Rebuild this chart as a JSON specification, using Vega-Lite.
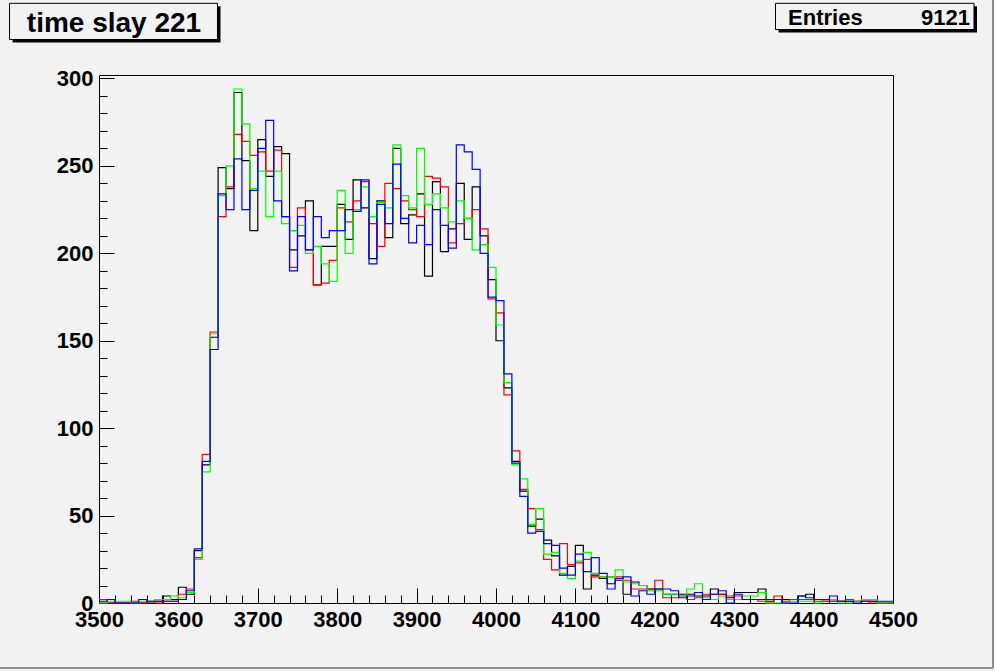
{
  "$schema": "https://vega.github.io/schema/vega-lite/v6.json",
  "width": 794,
  "height": 528,
  "autosize": {"type": "none"},
  "padding": {"left": 99, "top": 75, "right": 102, "bottom": 68},
  "background": "#f2f2f2",
  "config": {"view": {"stroke": "black", "strokeWidth": 1, "fill": "#f2f2f2"}, "font": "Liberation Sans"},
  "data": {"values": [
    {"x":3500,"k":0,"r":2,"g":0,"b":1},
    {"x":3510,"k":0,"r":0,"g":1,"b":2},
    {"x":3520,"k":0,"r":0,"g":1,"b":0},
    {"x":3530,"k":0,"r":0,"g":1,"b":0},
    {"x":3540,"k":0,"r":1,"g":0,"b":0},
    {"x":3550,"k":0,"r":0,"g":1,"b":2},
    {"x":3560,"k":0,"r":1,"g":1,"b":1},
    {"x":3570,"k":1,"r":0,"g":2,"b":1},
    {"x":3580,"k":4,"r":1,"g":2,"b":1},
    {"x":3590,"k":2,"r":1,"g":4,"b":1},
    {"x":3600,"k":9,"r":5,"g":3,"b":2},
    {"x":3610,"k":5,"r":8,"g":6,"b":7},
    {"x":3620,"k":30,"r":26,"g":25,"b":31},
    {"x":3630,"k":79,"r":85,"g":75,"b":81},
    {"x":3640,"k":152,"r":155,"g":154,"b":145},
    {"x":3650,"k":249,"r":221,"g":233,"b":234},
    {"x":3660,"k":237,"r":238,"g":250,"b":225},
    {"x":3670,"k":292,"r":268,"g":294,"b":254},
    {"x":3680,"k":253,"r":264,"g":274,"b":225},
    {"x":3690,"k":213,"r":256,"g":237,"b":236},
    {"x":3700,"k":265,"r":258,"g":247,"b":260},
    {"x":3710,"k":244,"r":247,"g":221,"b":276},
    {"x":3720,"k":261,"r":259,"g":247,"b":230},
    {"x":3730,"k":257,"r":221,"g":217,"b":221},
    {"x":3740,"k":202,"r":192,"g":213,"b":190},
    {"x":3750,"k":210,"r":226,"g":216,"b":221},
    {"x":3760,"k":230,"r":202,"g":200,"b":202},
    {"x":3770,"k":182,"r":182,"g":204,"b":221},
    {"x":3780,"k":204,"r":183,"g":194,"b":209},
    {"x":3790,"k":204,"r":196,"g":184,"b":213},
    {"x":3800,"k":228,"r":226,"g":236,"b":213},
    {"x":3810,"k":208,"r":218,"g":200,"b":225},
    {"x":3820,"k":242,"r":230,"g":225,"b":224},
    {"x":3830,"k":226,"r":241,"g":238,"b":242},
    {"x":3840,"k":197,"r":217,"g":221,"b":194},
    {"x":3850,"k":230,"r":204,"g":229,"b":228},
    {"x":3860,"k":209,"r":240,"g":226,"b":217},
    {"x":3870,"k":260,"r":237,"g":262,"b":251},
    {"x":3880,"k":217,"r":230,"g":233,"b":220},
    {"x":3890,"k":222,"r":225,"g":226,"b":206},
    {"x":3900,"k":234,"r":221,"g":260,"b":216},
    {"x":3910,"k":187,"r":244,"g":228,"b":205},
    {"x":3920,"k":241,"r":243,"g":234,"b":225},
    {"x":3930,"k":201,"r":238,"g":226,"b":216},
    {"x":3940,"k":214,"r":206,"g":218,"b":203},
    {"x":3950,"k":240,"r":217,"g":230,"b":262},
    {"x":3960,"k":208,"r":220,"g":220,"b":258},
    {"x":3970,"k":238,"r":225,"g":202,"b":248},
    {"x":3980,"k":210,"r":214,"g":205,"b":200},
    {"x":3990,"k":185,"r":174,"g":192,"b":175},
    {"x":4000,"k":150,"r":166,"g":159,"b":173},
    {"x":4010,"k":123,"r":119,"g":126,"b":131},
    {"x":4020,"k":81,"r":87,"g":79,"b":80},
    {"x":4030,"k":64,"r":65,"g":71,"b":61},
    {"x":4040,"k":44,"r":54,"g":45,"b":40},
    {"x":4050,"k":48,"r":42,"g":54,"b":41},
    {"x":4060,"k":36,"r":25,"g":28,"b":34},
    {"x":4070,"k":27,"r":19,"g":29,"b":33},
    {"x":4080,"k":16,"r":34,"g":17,"b":20},
    {"x":4090,"k":21,"r":22,"g":14,"b":16},
    {"x":4100,"k":33,"r":23,"g":24,"b":28},
    {"x":4110,"k":8,"r":25,"g":29,"b":18},
    {"x":4120,"k":16,"r":15,"g":17,"b":26},
    {"x":4130,"k":14,"r":15,"g":15,"b":17},
    {"x":4140,"k":11,"r":15,"g":15,"b":8},
    {"x":4150,"k":13,"r":15,"g":19,"b":14},
    {"x":4160,"k":5,"r":13,"g":12,"b":15},
    {"x":4170,"k":12,"r":8,"g":11,"b":4},
    {"x":4180,"k":10,"r":8,"g":10,"b":7},
    {"x":4190,"k":8,"r":8,"g":7,"b":5},
    {"x":4200,"k":8,"r":13,"g":7,"b":8},
    {"x":4210,"k":5,"r":3,"g":5,"b":8},
    {"x":4220,"k":5,"r":3,"g":5,"b":7},
    {"x":4230,"k":5,"r":4,"g":4,"b":3},
    {"x":4240,"k":5,"r":2,"g":8,"b":4},
    {"x":4250,"k":4,"r":3,"g":11,"b":6},
    {"x":4260,"k":4,"r":5,"g":3,"b":2},
    {"x":4270,"k":8,"r":5,"g":2,"b":5},
    {"x":4280,"k":5,"r":5,"g":4,"b":7},
    {"x":4290,"k":3,"r":4,"g":2,"b":0},
    {"x":4300,"k":6,"r":4,"g":2,"b":5},
    {"x":4310,"k":6,"r":2,"g":4,"b":2},
    {"x":4320,"k":6,"r":2,"g":4,"b":2},
    {"x":4330,"k":8,"r":1,"g":6,"b":2},
    {"x":4340,"k":1,"r":0,"g":0,"b":2},
    {"x":4350,"k":2,"r":4,"g":0,"b":2},
    {"x":4360,"k":2,"r":1,"g":0,"b":0},
    {"x":4370,"k":2,"r":2,"g":1,"b":0},
    {"x":4380,"k":4,"r":2,"g":1,"b":4},
    {"x":4390,"k":5,"r":2,"g":1,"b":3},
    {"x":4400,"k":2,"r":1,"g":0,"b":2},
    {"x":4410,"k":1,"r":1,"g":2,"b":2},
    {"x":4420,"k":1,"r":1,"g":2,"b":4},
    {"x":4430,"k":1,"r":1,"g":0,"b":1},
    {"x":4440,"k":1,"r":2,"g":0,"b":1},
    {"x":4450,"k":1,"r":1,"g":1,"b":0},
    {"x":4460,"k":1,"r":1,"g":2,"b":1},
    {"x":4470,"k":1,"r":0,"g":2,"b":1},
    {"x":4480,"k":0,"r":0,"g":0,"b":1},
    {"x":4490,"k":0,"r":0,"g":0,"b":1},
    {"x":4500,"k":0,"r":0,"g":0,"b":1}
  ]},
  "encoding": {
    "x": {"type": "quantitative",
      "scale": {"domain": [3500, 4500], "nice": false, "zero": false},
      "axis": {
        "values": [3500,3520,3540,3560,3580,3600,3620,3640,3660,3680,3700,3720,3740,3760,3780,3800,3820,3840,3860,3880,3900,3920,3940,3960,3980,4000,4020,4040,4060,4080,4100,4120,4140,4160,4180,4200,4220,4240,4260,4280,4300,4320,4340,4360,4380,4400,4420,4440,4460,4480,4500],
        "format": "d",
        "labelExpr": "datum.value % 100 === 0 ? datum.label : ''",
        "tickSize": {"condition": {"test": "datum.value % 100 === 0", "value": -15}, "value": -8},
        "tickColor": "black", "tickWidth": 1, "domain": false, "grid": false, "title": null,
        "labelFont": "Liberation Sans", "labelFontWeight": "bold", "labelFontSize": 22, "labelColor": "black",
        "labelPadding": 21, "labelFlush": false, "labelOverlap": false, "labelBound": false
      }
    },
    "y": {"type": "quantitative",
      "scale": {"domain": [0, 302], "nice": false, "zero": true},
      "axis": {
        "values": [0,10,20,30,40,50,60,70,80,90,100,110,120,130,140,150,160,170,180,190,200,210,220,230,240,250,260,270,280,290,300],
        "format": "d",
        "labelExpr": "datum.value % 50 === 0 ? datum.label : ''",
        "tickSize": {"condition": {"test": "datum.value % 50 === 0", "value": -15}, "value": -8},
        "tickColor": "black", "tickWidth": 1, "domain": false, "grid": false, "title": null,
        "labelFont": "Liberation Sans", "labelFontWeight": "bold", "labelFontSize": 22, "labelColor": "black",
        "labelPadding": 21, "labelFlush": false, "labelOverlap": false, "labelBound": false
      }
    }
  },
  "layer": [
    {"mark": {"type": "line", "interpolate": "step-after", "color": "#000000", "strokeWidth": 1.2}, "encoding": {"x": {"field": "x", "type": "quantitative"}, "y": {"field": "k", "type": "quantitative"}}},
    {"mark": {"type": "line", "interpolate": "step-after", "color": "#ff0000", "strokeWidth": 1.2}, "encoding": {"x": {"field": "x", "type": "quantitative"}, "y": {"field": "r", "type": "quantitative"}}},
    {"mark": {"type": "line", "interpolate": "step-after", "color": "#00ff00", "strokeWidth": 1.2}, "encoding": {"x": {"field": "x", "type": "quantitative"}, "y": {"field": "g", "type": "quantitative"}}},
    {"mark": {"type": "line", "interpolate": "step-after", "color": "#0000ff", "strokeWidth": 1.2}, "encoding": {"x": {"field": "x", "type": "quantitative"}, "y": {"field": "b", "type": "quantitative"}}},
    {
      "data": {"values": [{"label": "time slay 221"}]},
      "layer": [
        {"mark": {"type": "rule", "stroke": "#8c8c8c", "strokeWidth": 2, "clip": false},
         "encoding": {"x": {"datum": 4625.9}, "y": {"datum": 344.9}, "y2": {"datum": -37.2}}},
        {"mark": {"type": "rule", "stroke": "#8c8c8c", "strokeWidth": 2, "clip": false},
         "encoding": {"x": {"datum": 3375.3}, "x2": {"datum": 4625.9}, "y": {"datum": -37.2}}},
        {"mark": {"type": "rect", "fill": "black", "clip": false},
         "encoding": {"x": {"datum": 3391.1}, "x2": {"datum": 3653.0}, "y": {"datum": 341.3}, "y2": {"datum": 320.6}}},
        {"mark": {"type": "rect", "fill": "#f2f2f2", "stroke": "black", "strokeWidth": 1, "clip": false},
         "encoding": {"x": {"datum": 3387.3}, "x2": {"datum": 3649.2}, "y": {"datum": 343.0}, "y2": {"datum": 322.3}}},
        {"mark": {"type": "text", "font": "Liberation Sans", "fontWeight": "bold", "fontSize": 28, "align": "center", "baseline": "alphabetic", "color": "black", "clip": false},
         "encoding": {"x": {"datum": 3518.9}, "y": {"datum": 326.6}, "text": {"field": "label"}}}
      ]
    },
    {
      "data": {"values": [{"name": "Entries", "value": "9121"}]},
      "layer": [
        {"mark": {"type": "rect", "fill": "black", "clip": false},
         "encoding": {"x": {"datum": 4355.8}, "x2": {"datum": 4605.8}, "y": {"datum": 341.3}, "y2": {"datum": 326.3}}},
        {"mark": {"type": "rect", "fill": "#f2f2f2", "stroke": "black", "strokeWidth": 1, "clip": false},
         "encoding": {"x": {"datum": 4352.0}, "x2": {"datum": 4602.0}, "y": {"datum": 343.0}, "y2": {"datum": 328.0}}},
        {"mark": {"type": "text", "font": "Liberation Sans", "fontWeight": "bold", "fontSize": 22, "align": "left", "baseline": "alphabetic", "color": "black", "clip": false},
         "encoding": {"x": {"datum": 4367.8}, "y": {"datum": 330.6}, "text": {"field": "name"}}},
        {"mark": {"type": "text", "font": "Liberation Sans", "fontWeight": "bold", "fontSize": 22, "align": "right", "baseline": "alphabetic", "color": "black", "clip": false},
         "encoding": {"x": {"datum": 4597.0}, "y": {"datum": 330.6}, "text": {"field": "value"}}}
      ]
    }
  ]
}
